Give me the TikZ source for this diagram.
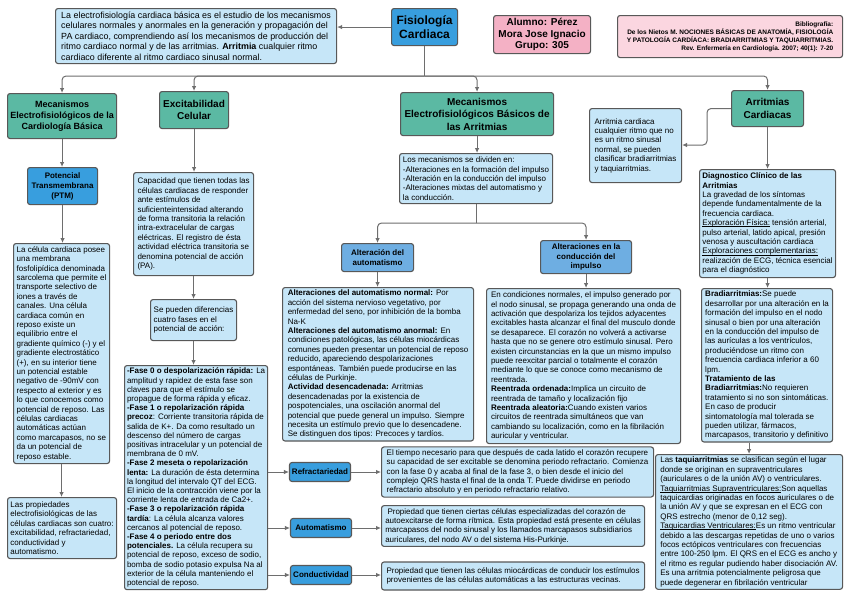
\documentclass[tikz,border=0pt]{standalone}
\usepackage{fontspec}
\setmainfont{Liberation Sans}
\usetikzlibrary{arrows.meta}
\definecolor{celeste}{RGB}{198,230,248}
\definecolor{verde}{RGB}{91,185,163}
\definecolor{azul}{RGB}{56,158,222}
\definecolor{azulmedio}{RGB}{110,174,226}
\definecolor{rosa}{RGB}{244,177,197}
\definecolor{rosaclaro}{RGB}{251,214,224}
\definecolor{borde}{RGB}{88,88,88}
\definecolor{gris}{RGB}{110,110,110}
\newcommand{\subrayado}[1]{\setbox0\hbox{#1}\rlap{\rule[-1.2pt]{\wd0}{0.5pt}}\box0\relax}
\begin{document}
\begin{tikzpicture}[x=1pt,y=-1pt,
  caja/.style={draw=borde,line width=1.1pt,rounded corners=2.5pt,fill=celeste,anchor=north west,
    align=left,inner sep=2.5pt,font=\fontsize{8}{9.4}\selectfont},
  titulo/.style={caja,fill=verde,align=center,font=\bfseries\fontsize{10}{12.5}\selectfont},
  chico/.style={titulo,fill=azul,anchor=center,inner sep=1pt,minimum width=61pt,minimum height=19pt,
    font=\bfseries\fontsize{8}{9.4}\selectfont},
  flecha/.style={->,draw=gris,line width=1pt,rounded corners=4pt,>={Latex[length=5pt,width=4.5pt]}},
  linea/.style={draw=gris,line width=1pt,rounded corners=4pt}]
\fill[white] (0,0) rectangle (848,600);
\useasboundingbox (0,0) rectangle (848,600);

% encabezado
\node[caja,font=\fontsize{8.9}{10.4}\selectfont,minimum width=281pt,minimum height=55pt] (intro) at (55,8)
  {La electrofisiología cardiaca básica es el estudio de los mecanismos\\
   celulares normales y anormales en la generación y propagación del\\
   PA cardiaco, comprendiendo así los mecanismos de producción del\\
   ritmo cardiaco normal y de las arritmias. \textbf{Arritmia} cualquier ritmo\\
   cardiaco diferente al ritmo cardiaco sinusal normal.};
\node[titulo,fill=azul,font=\bfseries\fontsize{12}{14}\selectfont,minimum width=66pt,minimum height=37pt] (fisio) at (391,8) {Fisiología\\Cardiaca};
\node[titulo,fill=rosa,font=\bfseries\fontsize{10}{11.5}\selectfont,minimum width=97pt,minimum height=38pt] (alumno) at (493,15)
  {Alumno: Pérez\\Mora Jose Ignacio\\Grupo: 305};
\node[titulo,fill=rosaclaro,align=right,font=\bfseries\fontsize{6.5}{8}\selectfont,minimum width=225pt,minimum height=42pt] (biblio) at (617,15)
  {Bibliografía:\\
   De los Nietos M. NOCIONES BÁSICAS DE ANATOMÍA, FISIOLOGÍA\\
   Y PATOLOGÍA CARDÍACA: BRADIARRITMIAS Y TAQUIARRITMIAS.\\
   Rev. Enfermería en Cardiología. 2007; 40(1): 7-20};

% ramas principales
\node[titulo,font=\bfseries\fontsize{9}{11}\selectfont,minimum width=109pt,minimum height=45pt] (mecbas) at (7,93)
  {Mecanismos\\Electrofisiológicos de la\\Cardiología Básica};
\node[titulo,minimum width=69pt,minimum height=37pt] (excit) at (159,91) {Excitabilidad\\Celular};
\node[titulo,minimum width=153pt,minimum height=43pt] (mecarr) at (400,92)
  {Mecanismos\\Electrofisiológicos Básicos de\\las Arritmias};
\node[titulo,minimum width=72pt,minimum height=36pt] (arrit) at (731,90) {Arritmias\\Cardiacas};

% cardiologia basica
\node[titulo,fill=azul,font=\bfseries\fontsize{8}{10}\selectfont,minimum width=70pt,minimum height=37pt] (ptm) at (27,167)
  {Potencial\\Transmembrana\\(PTM)};
\node[caja,minimum width=96pt,minimum height=220pt] (celula) at (13,243)
  {La célula cardiaca posee\\
   una membrana\\
   fosfolipídica denominada\\
   sarcolema que permite el\\
   transporte selectivo de\\
   iones a través de\\
   canales. Una célula\\
   cardiaca común en\\
   reposo existe un\\
   equilibrio entre el\\
   gradiente químico (-) y el\\
   gradiente electrostático\\
   (+), en su interior tiene\\
   un potencial estable\\
   negativo de -90mV con\\
   respecto al exterior y es\\
   lo que conocemos como\\
   potencial de reposo. Las\\
   células cardiacas\\
   automáticas actúan\\
   como marcapasos, no se\\
   da un potencial de\\
   reposo estable.};
\node[caja,minimum width=109pt,minimum height=61pt] (propied) at (7,497)
  {Las propiedades\\
   electrofisiológicas de las\\
   células cardiacas son cuatro:\\
   excitabilidad, refractariedad,\\
   conductividad y\\
   automatismo.};

% excitabilidad
\node[caja,minimum width=120pt,minimum height=103pt] (capac) at (133,172)
  {Capacidad que tienen todas las\\
   células cardiacas de responder\\
   ante estímulos de\\
   suficienteintensidad alterando\\
   de forma transitoria la relación\\
   intra-extracelular de cargas\\
   eléctricas. El registro de ésta\\
   actividad eléctrica transitoria se\\
   denomina potencial de acción\\
   (PA).};
\node[caja,minimum width=86pt,minimum height=41pt] (fasesint) at (150,299)
  {Se pueden diferencias\\cuatro fases en el\\potencial de acción:};
\node[caja,font=\fontsize{8}{9.2}\selectfont,minimum width=143pt,minimum height=224pt] (fases) at (124,365)
  {\textbf{-Fase 0 o despolarización rápida:} La\\
   amplitud y rapidez de esta fase son\\
   claves para que el estímulo se\\
   propague de forma rápida y eficaz.\\
   \textbf{-Fase 1 o repolarización rápida}\\
   \textbf{precoz}: Corriente transitoria rápida de\\
   salida de K+. Da como resultado un\\
   descenso del número de cargas\\
   positivas intracelular y un potencial de\\
   membrana de 0 mV.\\
   \textbf{-Fase 2 meseta o repolarización}\\
   \textbf{lenta:} La duración de ésta determina\\
   la longitud del intervalo QT del ECG.\\
   El inicio de la contracción viene por la\\
   corriente lenta de entrada de Ca2+.\\
   \textbf{-Fase 3 o repolarización rápida}\\
   \textbf{tardía}: La célula alcanza valores\\
   cercanos al potencial de reposo.\\
   \textbf{-Fase 4 o periodo entre dos}\\
   \textbf{potenciales.} La célula recupera su\\
   potencial de reposo, exceso de sodio,\\
   bomba de sodio potasio expulsa Na al\\
   exterior de la célula manteniendo el\\
   potencial de reposo.};

% propiedades
\node[chico] (refr) at (320,472) {Refractariedad};
\node[chico] (autom) at (321,528) {Automatismo};
\node[chico] (conduc) at (321,575) {Conductividad};
\node[caja,anchor=west,minimum width=272pt] (refrtxt) at (381,472)
  {El tiempo necesario para que después de cada latido el corazón recupere\\
   su capacidad de ser excitable se denomina periodo refractario. Comienza\\
   con la fase 0 y acaba al final de la fase 3, o bien desde el inicio del\\
   complejo QRS hasta el final de la onda T. Puede dividirse en periodo\\
   refractario absoluto y en periodo refractario relativo.};
\node[caja,anchor=west,minimum width=263pt] (automtxt) at (381,526)
  {\ Propiedad que tienen ciertas células especializadas del corazón de\\
   autoexcitarse de forma rítmica. Esta propiedad está presente en células\\
   marcapasos del nodo sinusal y los llamados marcapasos subsidiarios\\
   auriculares, del nodo AV o del sistema His-Purkinje.};
\node[caja,anchor=west,minimum width=263pt,minimum height=28pt] (conductxt) at (381,576)
  {Propiedad que tienen las células miocárdicas de conducir los estímulos\\
   provenientes de las células automáticas a las estructuras vecinas.};

% mecanismos de las arritmias
\node[caja,minimum width=153pt,minimum height=50pt] (mecdiv) at (399,153)
  {Los mecanismos se dividen en:\\
   -Alteraciones en la formación del impulso\\
   -Alteración en la conducción del impulso\\
   -Alteraciones mixtas del automatismo y\\
   la conducción.};
\node[titulo,fill=azulmedio,font=\bfseries\fontsize{8}{9.6}\selectfont,minimum width=72pt,minimum height=28pt] (altaut) at (341,243)
  {Alteración del\\automatismo};
\node[titulo,fill=azulmedio,font=\bfseries\fontsize{8}{9.6}\selectfont,minimum width=91pt,minimum height=33pt] (altcond) at (540,240)
  {Alteraciones en la\\conducción del\\impulso};
\node[caja,minimum width=191pt,minimum height=148pt] (auttxt) at (282,287)
  {\textbf{Alteraciones del automatismo normal:} Por\\
   acción del sistema nervioso vegetativo, por\\
   enfermedad del seno, por inhibición de la bomba\\
   Na-K\\
   \textbf{Alteraciones del automatismo anormal:} En\\
   condiciones patológicas, las células miocárdicas\\
   comunes pueden presentar un potencial de reposo\\
   reducido, apareciendo despolarizaciones\\
   espontáneas. También puede producirse en las\\
   células de Purkinje.\\
   \textbf{Actividad desencadenada:} Arritmias\\
   desencadenadas por la existencia de\\
   pospotenciales, una oscilación anormal del\\
   potencial que puede general un impulso. Siempre\\
   necesita un estímulo previo que lo desencadene.\\
   Se distinguen dos tipos: Precoces y tardíos.};
\node[caja,minimum width=194pt,minimum height=155pt] (condtxt) at (486,288)
  {En condiciones normales, el impulso generado por\\
   el nodo sinusal, se propaga generando una onda de\\
   activación que despolariza los tejidos adyacentes\\
   excitables hasta alcanzar el final del musculo donde\\
   se desaparece. El corazón no volverá a activarse\\
   hasta que no se genere otro estímulo sinusal. Pero\\
   existen circunstancias en la que un mismo impulso\\
   puede reexcitar parcial o totalmente el corazón\\
   mediante lo que se conoce como mecanismo de\\
   reentrada.\\
   \textbf{Reentrada ordenada:}Implica un circuito de\\
   reentrada de tamaño y localización fijo\\
   \textbf{Reentrada aleatoria:}Cuando existen varios\\
   circuitos de reentrada simultáneos que van\\
   cambiando su localización, como en la fibrilación\\
   auricular y ventricular.};

% arritmias cardiacas
\node[caja,minimum width=92pt,minimum height=74pt] (arrdef) at (589,108)
  {Arritmia cardiaca\\
   cualquier ritmo que no\\
   es un ritmo sinusal\\
   normal, se pueden\\
   clasificar bradiarritmias\\
   y taquiarritmias.};
\node[caja,minimum width=136pt,minimum height=108pt] (diag) at (699,169)
  {\textbf{Diagnostico Clínico de las}\\
   \textbf{Arritmias}\\
   La gravedad de los síntomas\\
   depende fundamentalmente de la\\
   frecuencia cardiaca.\\
   \subrayado{Exploración Física:} tensión arterial,\\
   pulso arterial, latido apical, presión\\
   venosa y auscultación cardiaca\\
   \subrayado{Exploraciones complementarias:}\\
   realización de ECG, técnica esencial\\
   para el diagnóstico};
\node[caja,minimum width=131pt,minimum height=152pt] (brad) at (701,288)
  {\textbf{Bradiarritmias:}Se puede\\
   desarrollar por una alteración en la\\
   formación del impulso en el nodo\\
   sinusal o bien por una alteración\\
   en la conducción del impulso de\\
   las aurículas a los ventrículos,\\
   produciéndose un ritmo con\\
   frecuencia cardiaca inferior a 60\\
   lpm.\\
   \textbf{Tratamiento de las}\\
   \textbf{Bradiarritmias:}No requieren\\
   tratamiento si no son sintomáticas.\\
   En caso de producir\\
   sintomatología mal tolerada se\\
   pueden utilizar, fármacos,\\
   marcapasos, transitorio y definitivo};
\node[caja,minimum width=187pt,minimum height=134pt] (taqui) at (655,454)
  {Las \textbf{taquiarritmias} se clasifican según el lugar\\
   donde se originan en supraventriculares\\
   (auriculares o de la unión AV) o ventriculares.\\
   \subrayado{Taquiarritmias Supraventriculares:}Son aquellas\\
   taquicardias originadas en focos auriculares o de\\
   la unión AV y que se expresan en el ECG con\\
   QRS estrecho (menor de 0,12 seg).\\
   \subrayado{Taquicardias Ventriculares:}Es un ritmo ventricular\\
   debido a las descargas repetidas de uno o varios\\
   focos ectópicos ventriculares con frecuencias\\
   entre 100-250 lpm. El QRS en el ECG es ancho y\\
   el ritmo es regular pudiendo haber disociación AV.\\
   Es una arritmia potencialmente peligrosa que\\
   puede degenerar en fibrilación ventricular};

% conectores
\draw[flecha] (fisio.west) -- (fisio.west -| intro.east);
\coordinate (bus) at (fisio.south |- 0,76);
\draw[linea] (fisio.south) -- (bus);
\draw[flecha] (bus) -| (mecbas.north);
\draw[flecha] (bus) -| (excit.north);
\draw[flecha] (bus) -| (mecarr.north);
\draw[flecha] (bus) -| (arrit.north);
\draw[flecha] (mecbas.south) -- (mecbas.south |- ptm.north);
\draw[flecha] (ptm.south) -- (ptm.south |- celula.north);
\draw[flecha] (celula.south) -- (celula.south |- propied.north);
\draw[flecha] (excit.south) -- (excit.south |- capac.north);
\draw[flecha] (capac.south) -- (capac.south |- fasesint.north);
\draw[flecha] (fasesint.south) -- (fasesint.south |- fases.north);
\draw[flecha] (fases.east |- refr.west) -- (refr.west);
\draw[flecha] (fases.east |- autom.west) -- (autom.west);
\draw[flecha] (fases.east |- conduc.west) -- (conduc.west);
\draw[flecha] (refr.east) -- (refr.east -| refrtxt.west);
\draw[flecha] (autom.east) -- (autom.east -| automtxt.west);
\draw[flecha] (conduc.east) -- (conduc.east -| conductxt.west);
\draw[flecha] (mecarr.south) -- (mecarr.south |- mecdiv.north);
\coordinate (bus2) at (mecdiv.south |- 0,223);
\draw[linea] (mecdiv.south) -- (bus2);
\draw[flecha] (bus2) -| (altaut.north);
\draw[flecha] (bus2) -| (altcond.north);
\draw[flecha] (altaut.south) -- (altaut.south |- auttxt.north);
\draw[flecha] (altcond.south) -- (altcond.south |- condtxt.north);
\coordinate (codo) at (707,145);
\draw[flecha] (arrit.west) -| (codo) -- (codo -| arrdef.east);
\draw[flecha] (arrit.south) -- (arrit.south |- diag.north);
\draw[flecha] (diag.south) -- (diag.south |- brad.north);
\draw[flecha] (taqui.north |- brad.south) -- (taqui.north);
\end{tikzpicture}
\end{document}
